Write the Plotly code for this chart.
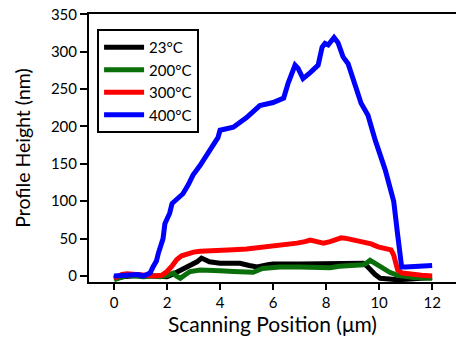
import plotly.graph_objects as go

# ---- data ----
labels = ["23°C", "200°C", "300°C", "400°C"]
colors = ["#000000", "#0a6e0a", "#ff0000", "#0000ff"]

x_23 = [0, 0.5, 1.0, 1.5, 1.8, 2.0, 2.2, 2.37, 2.55, 2.75, 3.0, 3.13, 3.3, 3.45, 3.6, 4.0, 4.75, 5.1, 5.4,
        5.8, 6.0, 7.0, 8.0, 8.5, 9.0, 9.4, 9.55, 9.66, 9.85, 10.04, 10.4, 10.7, 11.2, 11.6, 12.0]
y_23 = [-2, 0, 1, 0, -1, -1, 2, 5, 8, 12, 16, 19, 24, 22, 19, 17, 17, 14, 12,
        15, 16, 16, 16, 16, 16, 17, 13, 8, 2, -3, -5, -5, -4, -3, -2]

x_200 = [0, 0.25, 0.5, 0.8, 1.1, 1.5, 1.74, 2.0, 2.23, 2.35, 2.5, 2.7, 2.87, 3.25, 3.5, 4.0, 4.5, 5.25, 5.6,
         6.26, 7.0, 7.5, 8.15, 8.5, 9.0, 9.4, 9.55, 9.66, 9.85, 10.15, 10.4, 10.7, 11.0, 11.3, 11.9, 12.0]
y_200 = [-5, -2, 1, 0, -1, 0, -1, 1, 4, 0, -3, 2, 6, 8, 8, 7, 6, 5, 10,
         12, 12, 11, 11, 13, 14, 15, 18, 21, 17, 10, 5, 1, -1, -2, -3, -3]

x_300 = [0, 0.3, 0.5, 1.0, 1.5, 1.8, 2.0, 2.2, 2.37, 2.55, 2.75, 3.0, 3.25, 3.6, 4.0, 4.5, 5.0, 5.25, 5.7,
         6.26, 6.6, 6.9, 7.2, 7.4, 7.65, 7.9, 8.15, 8.4, 8.57, 8.8, 9.1, 9.4, 9.7, 9.96, 10.2, 10.45, 10.55,
         10.7, 10.87, 11.2, 11.6, 12.0]
y_300 = [-3, 2, 3, 1, 0, 1, 6, 14, 22, 27, 30, 32, 33, 34, 34, 35, 36, 37, 38,
         41, 42, 44, 46, 48, 46, 44, 46, 50, 51, 50, 48, 46, 43, 39, 37, 35, 28,
         8, 4, 2, 1, 0]

x_400 = [0.0, 0.5, 0.9, 1.1, 1.36, 1.47, 1.6, 1.67, 1.77, 1.85, 1.92, 2.0, 2.1, 2.19, 2.37, 2.6, 2.8, 2.98,
         3.25, 3.6, 3.92, 4.0, 4.5, 5.0, 5.3, 5.5, 6.0, 6.4, 6.57, 6.83, 6.94, 7.13, 7.4, 7.7, 7.85, 7.96,
         8.08, 8.3, 8.45, 8.64, 8.83, 9.02, 9.32, 9.58, 9.85, 10.23, 10.45, 10.55, 10.7, 10.85, 11.0, 11.5, 12.0]
y_400 = [0, 1, 2, 0, 4, 12, 20, 30, 40, 50, 70, 75, 84, 97, 103, 110, 122, 135,
         148, 166, 185, 195, 199, 212, 222, 228, 232, 238, 258, 282, 278, 264, 272, 282, 306, 311,
         309, 319, 312, 293, 284, 262, 231, 215, 182, 142, 115, 100, 55, 12, 12, 13, 14]

x_ticks = [0, 2, 4, 6, 8, 10, 12]
y_ticks = [0, 50, 100, 150, 200, 250, 300, 350]

series = [(x_23, y_23), (x_200, y_200), (x_300, y_300), (x_400, y_400)]

FONT = "Lato"

fig = go.Figure()
for (xs, ys), name, c in zip(series, labels, colors):
    fig.add_trace(go.Scatter(x=xs, y=ys, mode="lines", name=name,
                             line=dict(color=c, width=5)))

fig.update_layout(
    width=456, height=337,
    margin=dict(l=89, r=0, t=14, b=55, autoexpand=False),
    paper_bgcolor="white", plot_bgcolor="white",
    font=dict(family=FONT, color="black", size=14),
    showlegend=True,
    legend=dict(x=0.022, y=0.944, xanchor="left", yanchor="top",
                bgcolor="white", bordercolor="black", borderwidth=2,
                font=dict(size=15, family=FONT, color="black"),
                tracegroupgap=0, itemwidth=40),
)
fig.update_xaxes(range=[-0.943, 12.9], tickvals=x_ticks, ticks="outside", ticklen=6,
                 tickwidth=1.5, tickcolor="black", showline=True, linecolor="black",
                 linewidth=2, mirror=True, showgrid=False, zeroline=False,
                 tickfont=dict(size=15), automargin=False, ticklabeloverflow="allow",
                 title=dict(text="Scanning Position (μm)", font=dict(size=21), standoff=6))
fig.update_yaxes(range=[-8, 350.4], tickvals=y_ticks, ticks="outside", ticklen=7,
                 tickwidth=1.5, tickcolor="black", showline=True, linecolor="black",
                 linewidth=2, showgrid=False, zeroline=False,
                 tickfont=dict(size=15), automargin=False, ticklabeloverflow="allow",
                 title=dict(text="Profile Height (nm)", font=dict(size=19.5), standoff=15))

# remove the page's default 8px body margin so the figure fills the window
fig.write_html("out.html", config={"displayModeBar": False},
               post_script="document.body.style.margin='0px';")
